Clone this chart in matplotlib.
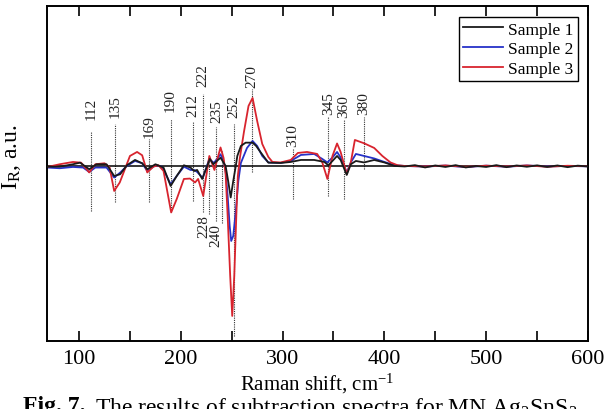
import matplotlib
matplotlib.use('Agg')
import matplotlib.pyplot as plt
from matplotlib.ticker import MultipleLocator

plt.rcParams['font.family'] = ['Liberation Serif', 'DejaVu Serif']
plt.rcParams['mathtext.default'] = 'regular'

# Data (intensity in arbitrary units)
x_s1 = [69, 81, 94, 101, 110, 117, 127, 134.5, 140.4, 147, 155, 162, 167, 175, 183,
        190, 196, 203, 209.5, 213, 216, 221, 228.5, 232, 239, 244, 246.5, 249, 251.5,
        254, 255.5, 259, 263.7, 270.5, 274, 278.5, 286, 298, 308, 318, 331, 341, 345,
        349, 353.5, 357, 363, 367, 372, 380, 390, 400, 410, 420, 430, 440, 450, 460,
        470, 480, 490, 500, 510, 520, 530, 540, 550, 560, 570, 580, 590, 600]
y_s1 = [-0.7, -0.7, 1.7, 3.3, -3.3, 1.7, 1.7, -10, -8.3, 0.7, 6, 2.7, -3.3, 1.7, -1.6,
        -20, -10, 0.7, -1.6, -5, -4, -13, 7, 1.7, 8.3, 0, -15, -31.5, -15,
        0, 10, 20, 23.3, 23.3, 20, 13.5, 3.3, 3, 4, 6, 6, 4, 0.7,
        5, 10, 6, -9, 1.7, 5, 3.5, 6, 3.5, 0, -0.5, 0.8, -1.5, 0.5, -1,
        0.8, -1.5, 0, -1, 0.8, -1.2, 0.5, -0.8, 0.6, -1, 0.5, -1.2, 0.3, -0.5]

x_s2 = [69, 81, 94, 104, 110, 116, 127, 134.5, 140.4, 147, 155, 162, 167, 175, 181.5,
        190, 196, 203, 209.5, 213, 216, 221.5, 228, 232.5, 239, 242, 244, 246, 248,
        249.5, 251.5, 254, 256.5, 259, 261, 265, 270.5, 275, 280, 286, 298, 308, 318,
        331, 339, 344, 349, 353.5, 357, 363, 367, 372, 380, 390, 400, 410, 420, 440,
        460, 480, 500, 520, 540, 560, 580, 600]
y_s2 = [-1.6, -2.3, -1, -1.6, -6, -1.6, -1.6, -11.6, -6.6, 0, 5, 2.7, -5, 0.7, -0.7,
        -18.3, -10, -0.7, -4, -4, -6, -12, 7, 3, 11.7, 5, -5, -30, -60,
        -75, -70, -45, -15, 3, 8, 18, 25, 20, 10, 3.5, 3, 5, 11,
        12, 7, 3.5, 8.5, 14, 8.5, -6.5, 3.5, 12, 10, 7.5, 4, 0.7, 0, -0.6,
        0.4, -1.2, 0.3, -0.8, 0.5, -0.5, 0, -0.4]

x_s3 = [69, 81, 94, 102, 110, 116, 125, 130, 134.5, 140, 145, 150, 157, 162, 167, 173,
        178, 183, 190.5, 196, 203, 209, 214, 217, 222, 228, 233, 239, 242, 244, 246,
        248.5, 250.5, 252.5, 254.5, 256, 258, 262, 266.5, 270.5, 275, 280, 286, 290,
        298, 308, 315, 324, 334, 339, 344, 349, 353.5, 357, 363, 367, 371, 380, 390,
        398, 406, 413, 420, 440, 460, 480, 500, 520, 540, 560, 580, 600]
y_s3 = [-1, 1.7, 4, 3.3, -6.5, 1.7, 2.7, -1.5, -25, -16.5, -3.3, 10, 14, 10.7, -6.5, -0.7,
        0.7, -5, -46.5, -33, -13, -12.6, -16.5, -13, -30, 10, -4, 18.5, 8, -8, -50,
        -110, -150, -110, -50, -10, 8, 34, 60, 68, 45, 22, 9, 4,
        3.5, 6, 13, 14, 12, 3.5, -13, 10, 22.5, 14, -8, 3.5, 26, 22.7, 18,
        10, 3.5, 0.7, 0, -0.5, 0.5, -0.8, 0.3, -0.5, 0.5, -0.8, 0.2, -0.3]

# peak marks: value, dotted line top / bottom, label bottom
peaks_up = [112, 135, 169, 190, 212, 222, 235, 252, 270, 310, 345, 360, 380]
line_top = [35, 42, 27, 47, 44, 72, 39, 42, 77, 17, 49, 47, 49]
line_bot = [-45, -36, -36, -46, -35, -46, -55, -170, -6, -33, -30, -33, -3]
label_y = [47, 49, 29, 55, 50, 80, 44, 49, 79, 20, 52, 49, 52]

peaks_down = [228, 240]
down_top = [10, 15]
down_bot = [-48, -57]

fig = plt.figure(figsize=(6.08, 4.10), dpi=100)
ax = fig.add_axes([0.0773, 0.166, 0.8897, 0.817])

ax.axhline(0, color='black', lw=1.1, zorder=1)

ax.plot(x_s1, y_s1, color='#1a1a1a', lw=1.3, label='Sample 1', zorder=3)
ax.plot(x_s2, y_s2, color='#2632c8', lw=1.3, label='Sample 2', zorder=2)
ax.plot(x_s3, y_s3, color='#d8242e', lw=1.3, label='Sample 3', zorder=2.5)

for p, t, b, ly in zip(peaks_up, line_top, line_bot, label_y):
    ax.plot([p, p], [b, t], color='#333333', lw=0.8, ls=(0, (1, 1)), zorder=0.5)
    ax.text(p, ly, str(p), rotation=90, ha='center', va='bottom', fontsize=11,
            color='#222222')

for p, t, b in zip(peaks_down, down_top, down_bot):
    ax.plot([p, p], [b, t], color='#333333', lw=0.8, ls=(0, (1, 1)), zorder=0.5)
    ax.text(p - 5.5, b, str(p), rotation=90, ha='center', va='top', fontsize=11,
            color='#222222')

ax.set_xlim(68.5, 600)
ax.set_ylim(-175, 160)
ax.set_yticks([])
ax.xaxis.set_major_locator(MultipleLocator(100))
ax.xaxis.set_minor_locator(MultipleLocator(50))
ax.tick_params(axis='x', which='both', direction='in', top=True, bottom=True,
               length=7, width=1.2, labelsize=16, pad=6)
for s in ax.spines.values():
    s.set_linewidth(1.4)

ax.set_xlabel('Raman shift, cm$^{-1}$', fontsize=15, labelpad=2)
ax.set_ylabel('I$_R$, a.u.', fontsize=17)
ax.yaxis.set_label_coords(-0.045, 0.552)

leg = ax.legend(loc='upper right', bbox_to_anchor=(0.9815, 0.967), borderaxespad=0,
                fontsize=12.5, handlelength=2.3, handletextpad=0.3, labelspacing=0.2,
                borderpad=0.25, frameon=True, fancybox=False, framealpha=1)
leg.get_frame().set_edgecolor('black')
leg.get_frame().set_linewidth(1.0)

# caption, cut off at the bottom edge as in the source
fig.text(0.038, 0.034, 'Fig. 7.', fontsize=17, fontweight='bold', va='top', ha='left')
fig.text(0.157, 0.034, 'The results of subtraction spectra for MN Ag$_2$SnS$_3$',
         fontsize=17, va='top', ha='left')

plt.savefig('out.png', dpi=100)
